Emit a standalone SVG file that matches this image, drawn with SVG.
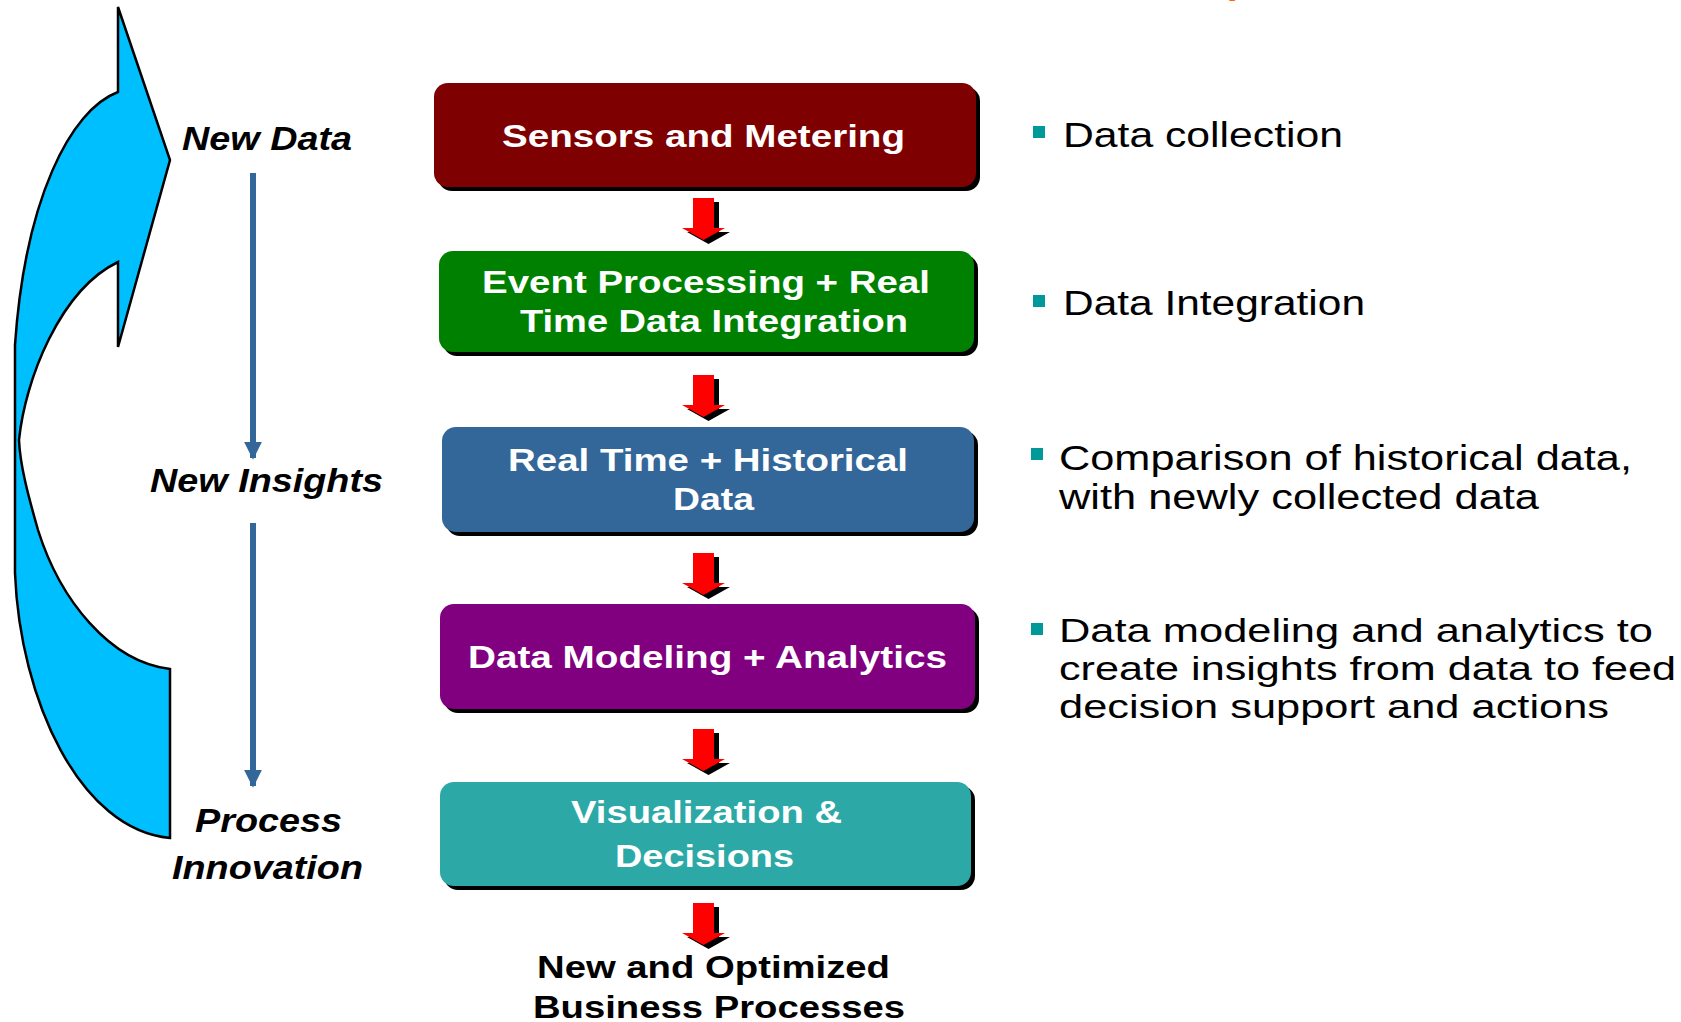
<svg xmlns="http://www.w3.org/2000/svg" width="1681" height="1022" viewBox="0 0 1681 1022">
<style>
.bxt{font-family:"Liberation Sans",Arial,sans-serif;font-weight:bold;font-size:32px;fill:#ffffff}
.blk{font-family:"Liberation Sans",Arial,sans-serif;font-weight:bold;font-size:32px;fill:#000000}
.lbl{font-family:"Liberation Sans",Arial,sans-serif;font-weight:bold;font-style:italic;font-size:33px;fill:#000000}
.note{font-family:"Liberation Sans",Arial,sans-serif;font-size:35px;fill:#000000}
.note2{font-family:"Liberation Sans",Arial,sans-serif;font-size:33px;fill:#000000}
.shadow{fill:#000000}
.bul{fill:#009999}
.red{fill:#ff0000}
.flow{stroke:#336699;stroke-width:6;fill:none}
</style>
<defs>
<marker id="bh" viewBox="0 0 10 10" refX="9" refY="5" markerWidth="3" markerHeight="3" orient="auto" markerUnits="strokeWidth">
<path d="M0,0 L10,5 L0,10 Z" fill="#336699"/>
</marker>
<path id="redArrow" d="M0,0 L21,0 L21,30 L32,30 L10.5,42 L-11,30 L0,30 Z"/>
</defs>
<rect width="1681" height="1022" fill="#ffffff"/>
<text x="1222" y="-7" font-family="Liberation Sans, Arial, sans-serif" font-weight="bold" font-size="40" fill="#ff6600">(</text>

<g id="cycle-arrow">
<path d="M170,838 L170,669 C110,662 60,600 38,530 C28,495 20,465 19,440 C25,380 60,290 118,262 L118,347 L170,160 L118,7 L118,92 C70,110 25,200 15,345 L15,573 C20,700 80,830 170,838 Z" fill="#00bfff" stroke="#000000" stroke-width="2.5" stroke-linejoin="miter"/>
</g>

<g id="connectors">
<line class="flow" x1="253" y1="173" x2="253" y2="458" marker-end="url(#bh)"/>
<line class="flow" x1="253" y1="523" x2="253" y2="786" marker-end="url(#bh)"/>
<g id="arrow1"><use href="#redArrow" class="shadow" x="698" y="202"/><use href="#redArrow" class="red" x="693" y="198"/></g>
<g id="arrow2"><use href="#redArrow" class="shadow" x="698" y="379"/><use href="#redArrow" class="red" x="693" y="375"/></g>
<g id="arrow3"><use href="#redArrow" class="shadow" x="698" y="557"/><use href="#redArrow" class="red" x="693" y="553"/></g>
<g id="arrow4"><use href="#redArrow" class="shadow" x="698" y="733"/><use href="#redArrow" class="red" x="693" y="729"/></g>
<g id="arrow5"><use href="#redArrow" class="shadow" x="698" y="907"/><use href="#redArrow" class="red" x="693" y="903"/></g>
</g>

<g id="label-new-data"><text class="lbl" x="182" y="150" textLength="170" lengthAdjust="spacingAndGlyphs">New Data</text></g>
<g id="label-new-insights"><text class="lbl" x="150" y="492" textLength="233" lengthAdjust="spacingAndGlyphs">New Insights</text></g>
<g id="label-process-innovation">
<text class="lbl" x="195" y="832" textLength="147" lengthAdjust="spacingAndGlyphs">Process</text>
<text class="lbl" x="172" y="879" textLength="191" lengthAdjust="spacingAndGlyphs">Innovation</text>
</g>

<g id="node-sensors">
<rect class="shadow" x="438" y="87" width="542" height="104" rx="14"/>
<rect x="434" y="83" width="542" height="104" rx="14" fill="#7f0000"/>
<text class="bxt" x="502" y="147" textLength="403" lengthAdjust="spacingAndGlyphs">Sensors and Metering</text>
</g>
<g id="node-event">
<rect class="shadow" x="443" y="255" width="535" height="101" rx="14"/>
<rect x="439" y="251" width="535" height="101" rx="14" fill="#008000"/>
<text class="bxt" x="482" y="293" textLength="448" lengthAdjust="spacingAndGlyphs">Event Processing + Real</text>
<text class="bxt" x="520" y="332" textLength="388" lengthAdjust="spacingAndGlyphs">Time Data Integration</text>
</g>
<g id="node-realtime">
<rect class="shadow" x="446" y="431" width="532" height="105" rx="14"/>
<rect x="442" y="427" width="532" height="105" rx="14" fill="#336699"/>
<text class="bxt" x="508" y="471" textLength="400" lengthAdjust="spacingAndGlyphs">Real Time + Historical</text>
<text class="bxt" x="673" y="510" textLength="81" lengthAdjust="spacingAndGlyphs">Data</text>
</g>
<g id="node-modeling">
<rect class="shadow" x="444" y="608" width="535" height="105" rx="14"/>
<rect x="440" y="604" width="535" height="105" rx="14" fill="#800080"/>
<text class="bxt" x="468" y="668" textLength="479" lengthAdjust="spacingAndGlyphs">Data Modeling + Analytics</text>
</g>
<g id="node-visualization">
<rect class="shadow" x="444" y="786" width="531" height="104" rx="14"/>
<rect x="440" y="782" width="531" height="104" rx="14" fill="#2ca8a7"/>
<text class="bxt" x="571" y="823" textLength="271" lengthAdjust="spacingAndGlyphs">Visualization &amp;</text>
<text class="bxt" x="615" y="867" textLength="179" lengthAdjust="spacingAndGlyphs">Decisions</text>
</g>
<g id="node-result">
<text class="blk" x="537" y="978" textLength="353" lengthAdjust="spacingAndGlyphs">New and Optimized</text>
<text class="blk" x="533" y="1018" textLength="372" lengthAdjust="spacingAndGlyphs">Business Processes</text>
</g>

<g id="note-1">
<rect class="bul" x="1033" y="126" width="12" height="12"/>
<text class="note" x="1063" y="147" textLength="280" lengthAdjust="spacingAndGlyphs">Data collection</text>
</g>
<g id="note-2">
<rect class="bul" x="1033" y="295" width="12" height="12"/>
<text class="note" x="1063" y="315" textLength="302" lengthAdjust="spacingAndGlyphs">Data Integration</text>
</g>
<g id="note-3">
<rect class="bul" x="1031" y="448" width="12" height="12"/>
<text class="note" x="1059" y="470" textLength="573" lengthAdjust="spacingAndGlyphs">Comparison of historical data,</text>
<text class="note" x="1059" y="509" textLength="480" lengthAdjust="spacingAndGlyphs">with newly collected data</text>
</g>
<g id="note-4">
<rect class="bul" x="1031" y="623" width="12" height="12"/>
<text class="note2" x="1059" y="642" textLength="594" lengthAdjust="spacingAndGlyphs">Data modeling and analytics to</text>
<text class="note2" x="1059" y="680" textLength="617" lengthAdjust="spacingAndGlyphs">create insights from data to feed</text>
<text class="note2" x="1059" y="718" textLength="550" lengthAdjust="spacingAndGlyphs">decision support and actions</text>
</g>
</svg>
